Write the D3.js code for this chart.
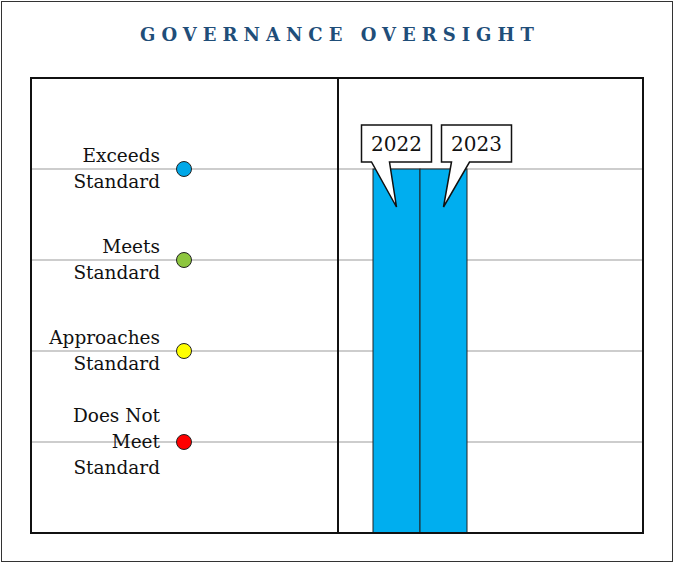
<!DOCTYPE html>
<html>
<head>
<meta charset="utf-8">
<script src="https://cdn.jsdelivr.net/npm/d3@7"></script>
<style>
  body { margin: 0; background: #fff; }
</style>
</head>
<body>
<div id="chart"></div>
<script>
"use strict";

const levels = ["Does Not Meet Standard", "Approaches Standard", "Meets Standard", "Exceeds Standard"];
const levelLines = [["Does Not", "Meet", "Standard"], ["Approaches", "Standard"], ["Meets", "Standard"], ["Exceeds", "Standard"]];
const levelColors = ["#ff0000", "#ffff00", "#8dc63f", "#00a8e8"];
const years = ["2022", "2023"];
const scores = [4, 4];

const W = 674, H = 563;
const serif = "'DejaVu Serif', serif";

let svg = d3.select("#chart")
    .append("svg")
    .attr("width", W)
    .attr("height", H);

// outer frame
svg.append("rect")
    .attr("x", 1.5).attr("y", 1.5)
    .attr("width", W - 3).attr("height", H - 3)
    .attr("fill", "none").attr("stroke", "#333").attr("stroke-width", 1);

svg.append("text")
    .attr("x", 340).attr("y", 41)
    .attr("text-anchor", "middle")
    .attr("font-family", serif)
    .attr("font-weight", "bold")
    .attr("font-size", 18)
    .attr("letter-spacing", 6)
    .attr("fill", "#1f4e79")
    .text("GOVERNANCE OVERSIGHT");

const boxL = 31, boxR = 643, boxT = 78, boxB = 533, divider = 338;

let y = d3.scaleLinear().domain([0, 5]).range([boxB, boxT]);
let x = d3.scaleBand().domain(years).range([373, 467]).padding(0);

// gridlines
svg.append("g")
    .selectAll("line")
    .data(levels)
    .join("line")
    .attr("x1", boxL).attr("x2", boxR)
    .attr("y1", (d, i) => y(i + 1)).attr("y2", (d, i) => y(i + 1))
    .attr("stroke", "#bdbdbd").attr("stroke-width", 1.5);

// legend dots and labels
let lg = svg.append("g");
lg.selectAll("circle")
    .data(levels)
    .join("circle")
    .attr("cx", 184).attr("cy", (d, i) => y(i + 1))
    .attr("r", 7.5)
    .attr("fill", (d, i) => levelColors[i])
    .attr("stroke", "#222").attr("stroke-width", 1);

const lineH = 26;
lg.selectAll("text")
    .data(levels)
    .join("text")
    .attr("text-anchor", "end")
    .attr("font-family", serif)
    .attr("font-size", 18.5)
    .attr("fill", "#111")
    .each(function (d, i) {
        let lines = levelLines[i];
        let cy = y(i + 1);
        let t = d3.select(this);
        lines.forEach((s, k) => {
            t.append("tspan")
                .attr("x", 160)
                .attr("y", cy + (k - (lines.length - 1) / 2) * lineH + 6)
                .text(s);
        });
    });

// bars
svg.append("g")
    .selectAll("rect")
    .data(years)
    .join("rect")
    .attr("x", d => x(d))
    .attr("y", (d, i) => y(scores[i]))
    .attr("width", x.bandwidth())
    .attr("height", (d, i) => y(0) - y(scores[i]))
    .attr("fill", "#00aeef")
    .attr("stroke", "#222").attr("stroke-width", 1);

// chart box and divider
svg.append("rect")
    .attr("x", boxL).attr("y", boxT)
    .attr("width", boxR - boxL).attr("height", boxB - boxT)
    .attr("fill", "none").attr("stroke", "#111").attr("stroke-width", 2);
svg.append("line")
    .attr("x1", divider).attr("x2", divider)
    .attr("y1", boxT).attr("y2", boxB)
    .attr("stroke", "#111").attr("stroke-width", 2);

// callouts
const calW = 70, calH = 37;
const calShift = [0, 33];   // box centre shift from bar centre
const tipDrop = 38;
let co = svg.append("g");
years.forEach((yr, i) => {
    let cx = x(yr) + x.bandwidth() / 2;
    let tipY = y(scores[i]) + tipDrop;
    let bx = cx + calShift[i];
    let bTop = 125, bBot = bTop + calH;
    let p0 = bx - 25;
    let p1 = p0 + 18;
    let path = d3.path();
    path.moveTo(bx - calW / 2, bTop);
    path.lineTo(bx + calW / 2, bTop);
    path.lineTo(bx + calW / 2, bBot);
    path.lineTo(p1, bBot);
    path.lineTo(cx, tipY);
    path.lineTo(p0, bBot);
    path.lineTo(bx - calW / 2, bBot);
    path.closePath();
    co.append("path")
        .attr("d", path.toString())
        .attr("fill", "#fff")
        .attr("stroke", "#111").attr("stroke-width", 1.5)
        .attr("stroke-linejoin", "miter");
    co.append("text")
        .attr("x", bx).attr("y", bTop + 26)
        .attr("text-anchor", "middle")
        .attr("font-family", serif)
        .attr("font-size", 20)
        .attr("fill", "#111")
        .text(yr);
});
</script>
</body>
</html>
